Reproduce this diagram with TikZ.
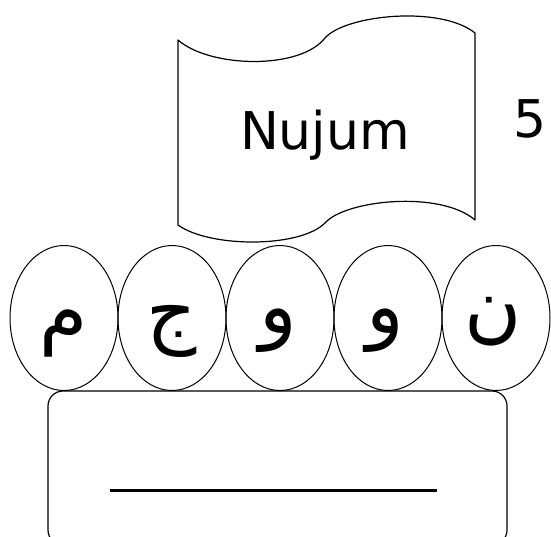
\documentclass[tikz,border=0pt]{standalone}
\usepackage{fontspec}
\setmainfont{DejaVu Sans}
\newfontfamily\arabicfont[Script=Arabic]{DejaVu Sans}
\TeXXeTstate=1
\usetikzlibrary{shapes.geometric}
\begin{document}
\begin{tikzpicture}[x=1pt,y=-1pt,
  outline/.style={draw=black,line width=1.2pt},
  oval/.style={ellipse,draw=black,line width=1pt,minimum width=108pt,minimum height=145pt,inner sep=0pt},
  letter/.style={font=\fontsize{78}{80}\arabicfont,inner sep=0pt,anchor=base},
  latin/.style={font=\fontsize{52}{54}\selectfont,inner sep=0pt,anchor=base}]
\useasboundingbox (0,0) rectangle (551,537);
\fill[white] (0,0) rectangle (551,537);
\clip (0,0) rectangle (551,537);
% banner
\draw[outline,line join=round] (178,40) .. controls (210,68) and (300,70) .. (325,38)
  .. controls (345,15) and (440,5) .. (475,33) -- (475,220)
  .. controls (440,190) and (345,200) .. (325,223)
  .. controls (300,248) and (210,248) .. (178,225) -- cycle;
\node[latin] (title) at (325,150) {Nujum};
\node[latin] (num) at (530,138) {5};
% ovals
\node[oval] (e1) at (64,318) {};
\node[oval] (e2) at (172,318) {};
\node[oval] (e3) at (280,318) {};
\node[oval] (e4) at (388,318) {};
\node[oval] (e5) at (496,318) {};
\node[letter] (l1) at (64,338) {\beginR م\endR};
\node[letter] (l2) at (172,338) {\beginR ج\endR};
\node[letter] (l3) at (278,333) {\beginR و\endR};
\node[letter] (l4) at (385,333) {\beginR و\endR};
\node[letter] (l5) at (493,333) {\beginR ن\endR};
% box
\draw[outline,rounded corners=15pt] (48,391) rectangle (507,545);
\coordinate (a) at (110,490);
\coordinate (b) at (437,490);
\draw[line width=3pt] (a) -- (b);
\end{tikzpicture}
\end{document}
